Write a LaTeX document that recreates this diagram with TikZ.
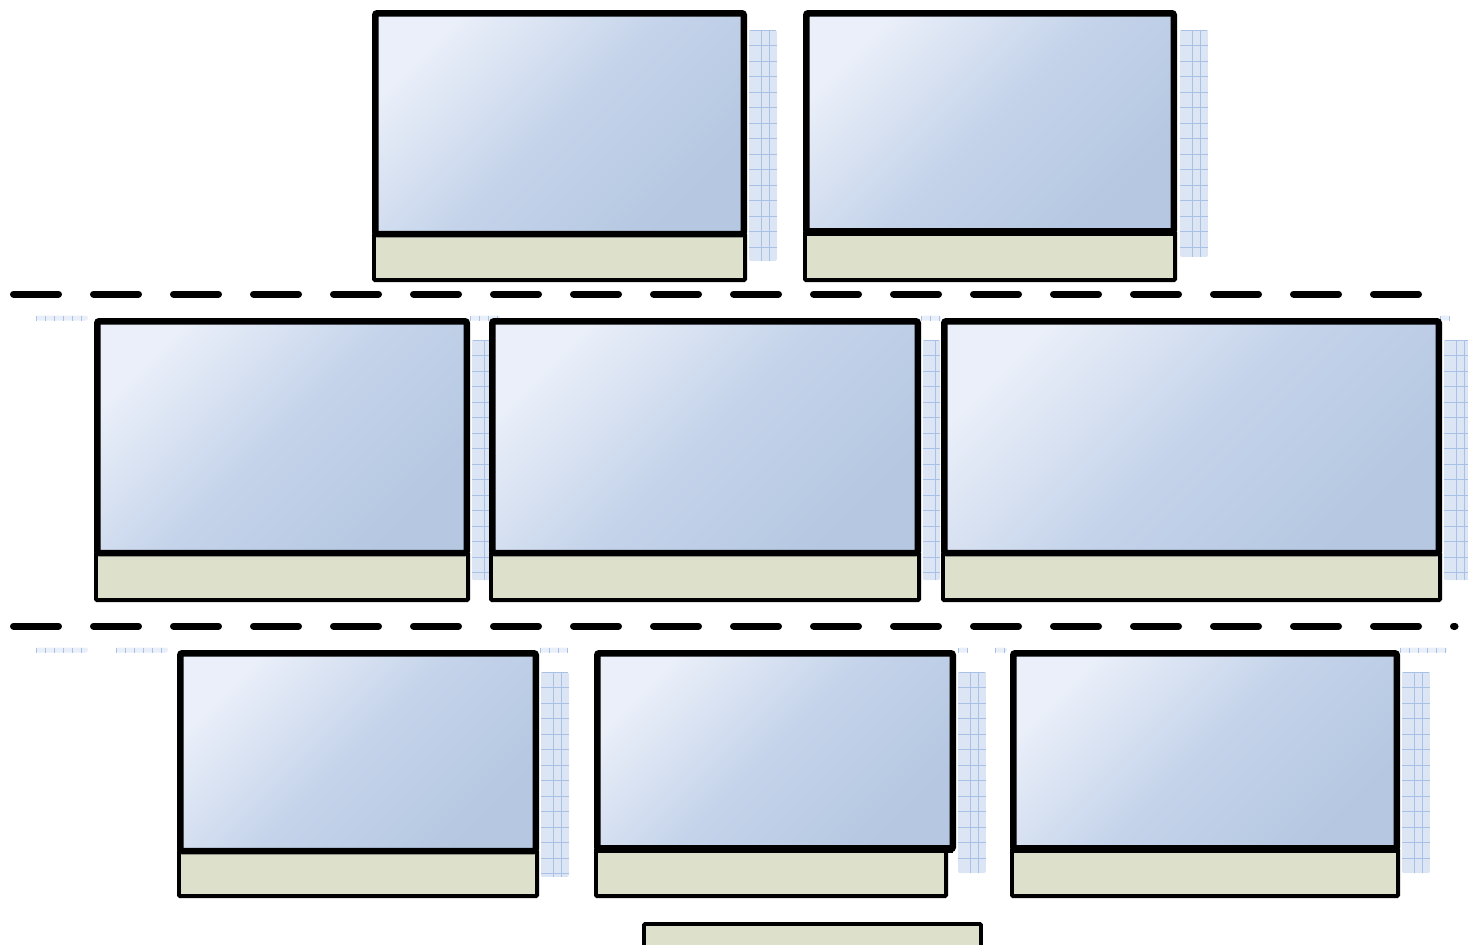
\documentclass[tikz,border=0pt]{standalone}
\usetikzlibrary{calc}
\definecolor{pl}{HTML}{EAEFF9}
\definecolor{pm}{HTML}{C4D3EA}
\definecolor{pd}{HTML}{B5C7E1}
\definecolor{beige}{HTML}{DDE1CB}
\definecolor{gfill}{HTML}{E9EFF9}
\definecolor{gminor}{HTML}{DCE5F4}
\definecolor{gmajor}{HTML}{A9C1E6}
\tikzset{
  panel/.style={draw=black, line width=6.5pt, rounded corners=2pt, top color=pl, bottom color=pd, middle color=pm, shading angle=45, inner sep=0pt, outer sep=0pt, anchor=north west},
  caption/.style={draw=black, line width=3.8pt, fill=beige, rounded corners=1pt, inner sep=0pt, outer sep=0pt, anchor=north west},
  sepline/.style={line width=7pt, line cap=round, dash pattern=on 45pt off 35pt},
  gmin/.style={draw=gminor, line width=0.5pt},
  gmaj/.style={draw=gmajor, line width=0.8pt},
}
% name, xl, xr, ytop, ymid, ybot, beige xr
\newcommand\panelunit[7]{%
  \node[caption, minimum width={#7-#2-3.8}, minimum height={#6-1.9-#5}] (#1c) at (#2+1.9,#5) {};
  \node[panel, minimum width={#3-#2-6.5}, minimum height={#5-#4-3.25}] (#1p) at (#2+3.25,#4+3.25) {};
}
% vertical grid strip x1 y1 x2 y2
\newcommand\vgrid[4]{%
  \begin{scope}
    \clip[rounded corners=2pt] (#1,#2) rectangle (#3,#4);
    \fill[gfill] (#1,#2) rectangle (#3,#4);
    \foreach \xx in {#1,...,#3} {\draw[gmin] (\xx,#2) -- (\xx,#4);}
    \pgfmathsetmacro\ysec{#2+3}
    \foreach \yy in {#2,\ysec,...,#4} {\draw[gmin] (#1,\yy) -- (#3,\yy);}
    \pgfmathsetmacro\ymj{#2+15.5}
    \foreach \yy in {#2,\ymj,...,#4} {\draw[gmaj] (#1,\yy) -- (#3,\yy);}
    \draw[gmaj] (#1+12,#2) -- (#1+12,#4);
    \draw[gmaj] (#1+20,#2) -- (#1+20,#4);
  \end{scope}
}
% horizontal thin strip x1 x2 yc
\newcommand\hgrid[3]{%
  \fill[gfill, rounded corners=2.5pt] (#1,#3-2.5) rectangle (#2,#3+2.5);
  \pgfmathsetmacro\xsec{#1+9}
  \foreach \xx in {#1,\xsec,...,#2} {\draw[gmaj, line width=0.4pt] (\xx,#3-2.5) -- (\xx,#3+2.5);}
}
\begin{document}
\begin{tikzpicture}[x=1pt,y=-1pt]
\useasboundingbox (0,0) rectangle (1468,945);
% background grid shadows
\vgrid{749}{30}{777}{261}
\vgrid{1180}{30}{1208}{257}
\vgrid{472}{340}{500}{580}
\vgrid{923}{340}{940}{580}
\vgrid{1444}{340}{1472}{580}
\vgrid{541}{672}{569}{877}
\vgrid{958}{672}{986}{873}
\vgrid{1402}{672}{1430}{873}
\hgrid{36}{88}{318}
\hgrid{470}{500}{318}
\hgrid{921}{941}{318}
\hgrid{1440}{1450}{318}
\hgrid{36}{88}{650}
\hgrid{116}{168}{650}
\hgrid{540}{568}{650}
\hgrid{958}{968}{650}
\hgrid{995}{1007}{650}
\hgrid{1400}{1447}{650}
% separators
\coordinate (s1a) at (13.5,294);
\coordinate (s1b) at (1418.5,294);
\coordinate (s2a) at (13.5,626);
\coordinate (s2b) at (1455,626);
\draw[sepline] (s1a) -- (s1b);
\draw[sepline] (s2a) -- (s2b);
% panels
\panelunit{A}{372}{747}{10}{234}{282}{747}
\panelunit{B}{803}{1177}{10}{232}{282}{1177}
\panelunit{C}{94}{470}{318}{553}{602}{470}
\panelunit{D}{489}{921}{318}{553}{602}{921}
\panelunit{E}{941}{1442}{318}{553}{602}{1442}
\panelunit{F}{177}{539}{650}{851}{898}{539}
\panelunit{G}{594}{956}{650}{849}{898}{948}
\panelunit{H}{1010}{1400}{650}{849}{898}{1400}
% thicker junctions
\draw[line width=8pt] (Bp.south west) -- (Bp.south east);
\draw[line width=8pt] (Gp.south west) -- (Gp.south east);
\draw[line width=8pt] (Hp.south west) -- (Hp.south east);
% bottom caption
\node[caption, minimum width=337, minimum height=40] (I) at (644,924) {};
\end{tikzpicture}
\end{document}
